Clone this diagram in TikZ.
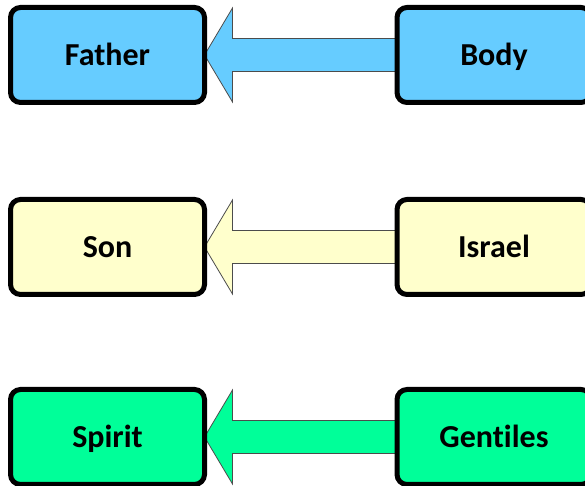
\documentclass[tikz,border=0pt]{standalone}
\usepackage{fontspec}
\setmainfont{Carlito}[Ligatures=NoCommon]
\usepackage{xcolor}
\usepackage{tikz}
\usetikzlibrary{calc, backgrounds}

\definecolor{skyblue}{HTML}{66CCFF}
\definecolor{paleyellow}{HTML}{FFFFCC}
\definecolor{mintgreen}{HTML}{00FF99}

\begin{document}
\begin{tikzpicture}[x=1pt, y=1pt,
  box/.style={draw=black, line width=5pt, rounded corners=10pt, minimum width=194pt, minimum height=95pt, inner sep=0pt, outer sep=0pt, text height=25pt, text depth=4pt, font=\fontsize{32}{38}\selectfont\bfseries},
  fatarrow/.style={draw=black!70, line width=0.8pt}]
\useasboundingbox (0,0) rectangle (585,486);
\node[box, fill=skyblue] (father) at (107.5,431) {Father};
\node[box, fill=skyblue] (body) at (494,431) {Body};
\node[box, fill=paleyellow] (son) at (107.5,239) {Son};
\node[box, fill=paleyellow] (israel) at (494,239) {Israel};
\node[box, fill=mintgreen] (spirit) at (107.5,49) {Spirit};
\node[box, fill=mintgreen] (gentiles) at (494,49) {Gentiles};
\begin{scope}[on background layer]
\draw[fatarrow, fill=skyblue] (father.east) -- ++(28,47) -- ++(0,-30.5) -- ($(body.west)+(0,16.5)$) -- ($(body.west)+(0,-16.5)$) -- ($(father.east)+(28,-16.5)$) -- ++(0,-30.5) -- cycle;
\draw[fatarrow, fill=paleyellow] (son.east) -- ++(28,47) -- ++(0,-30.5) -- ($(israel.west)+(0,16.5)$) -- ($(israel.west)+(0,-16.5)$) -- ($(son.east)+(28,-16.5)$) -- ++(0,-30.5) -- cycle;
\draw[fatarrow, fill=mintgreen] (spirit.east) -- ++(28,47) -- ++(0,-30.5) -- ($(gentiles.west)+(0,16.5)$) -- ($(gentiles.west)+(0,-16.5)$) -- ($(spirit.east)+(28,-16.5)$) -- ++(0,-30.5) -- cycle;
\end{scope}
\end{tikzpicture}
\end{document}
